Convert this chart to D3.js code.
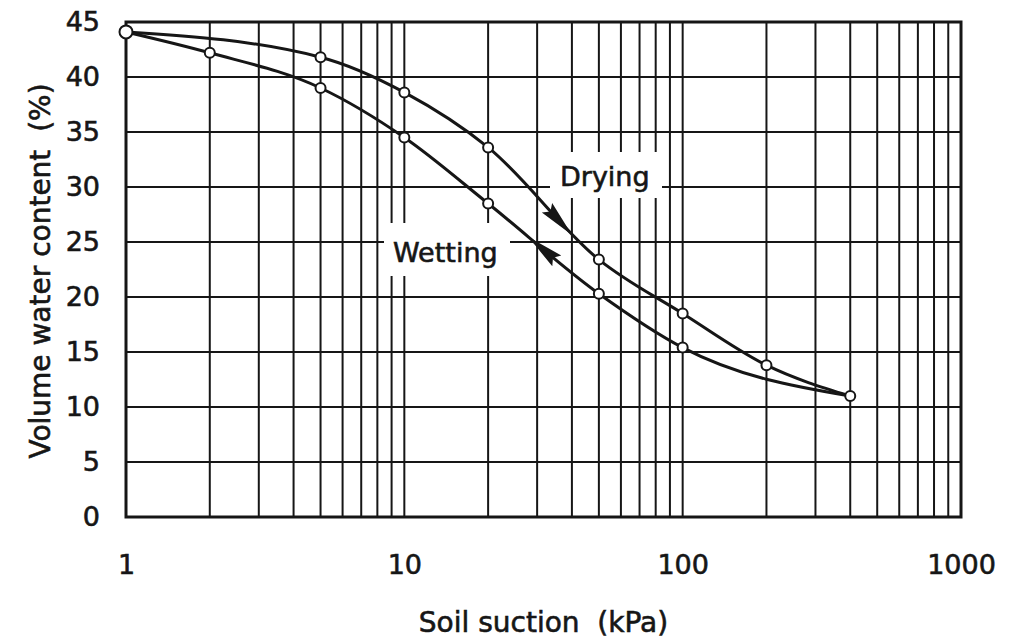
<!DOCTYPE html>
<html>
<head>
<meta charset="utf-8">
<script src="https://cdn.jsdelivr.net/npm/d3@7"></script>
<style>
  body { margin: 0; background: #fff; }
  svg { display: block; }
  text { font-family: "DejaVu Sans", sans-serif; fill: #161616; stroke: #161616; stroke-width: 0.6px; white-space: pre; }
</style>
</head>
<body>
<svg id="chart"></svg>
<script>
// values
const dryingSuction = [1, 5, 10, 20, 50, 100, 200, 400];
const dryingWater   = [44.1, 41.8, 38.6, 33.6, 23.4, 18.5, 13.8, 11.0];
const wettingSuction = [1, 2, 5, 10, 20, 50, 100, 400];
const wettingWater   = [44.1, 42.2, 39.0, 34.5, 28.5, 20.3, 15.4, 11.0];
const xTickLabels = [1, 10, 100, 1000];
const yTickLabels = [0, 5, 10, 15, 20, 25, 30, 35, 40, 45];

const width = 1018, height = 639;
const margin = { top: 22, right: 57, bottom: 122, left: 126 };
const ink = "#161616";

const svg = d3.select("#chart")
    .attr("width", width)
    .attr("height", height);

const x = d3.scaleLog()
    .domain([1, 1000])
    .range([margin.left, width - margin.right]);

const y = d3.scaleLinear()
    .domain([0, 45])
    .range([height - margin.bottom, margin.top]);

// grid
svg.append("g")
    .selectAll("line")
    .data(x.ticks())
    .enter().append("line")
    .attr("x1", d => x(d)).attr("x2", d => x(d))
    .attr("y1", y(0)).attr("y2", y(45))
    .attr("stroke", ink)
    .attr("stroke-width", 2);

svg.append("g")
    .selectAll("line")
    .data(yTickLabels)
    .enter().append("line")
    .attr("x1", x(1)).attr("x2", x(1000))
    .attr("y1", d => y(d)).attr("y2", d => y(d))
    .attr("stroke", ink)
    .attr("stroke-width", 2);

// label backgrounds knock out the grid
svg.append("rect").attr("x", 550).attr("y", 152).attr("width", 112).attr("height", 46).attr("fill", "#fff");
svg.append("rect").attr("x", 384).attr("y", 223).attr("width", 126).attr("height", 53).attr("fill", "#fff");

// frame
svg.append("rect")
    .attr("x", x(1)).attr("y", y(45))
    .attr("width", x(1000) - x(1))
    .attr("height", y(0) - y(45))
    .attr("fill", "none")
    .attr("stroke", ink)
    .attr("stroke-width", 3);

// axes (labels only)
const xAxis = svg.append("g")
    .attr("transform", `translate(0,${y(0)})`)
    .call(d3.axisBottom(x).tickValues(xTickLabels).tickFormat(d3.format("d")).tickSize(0).tickPadding(38));
const yAxis = svg.append("g")
    .attr("transform", `translate(${x(1)},0)`)
    .call(d3.axisLeft(y).tickValues(yTickLabels).tickSize(0).tickPadding(26));
[xAxis, yAxis].forEach(g => {
    g.select(".domain").remove();
    g.selectAll("text")
        .style("font-family", "'DejaVu Sans', sans-serif")
        .style("font-size", "27px")
        .attr("fill", ink);
});

// curves
const line = d3.line()
    .x(d => x(d[0]))
    .y(d => y(d[1]))
    .curve(d3.curveMonotoneX);

const drying = dryingSuction.map((s, i) => [s, dryingWater[i]]);
const wetting = wettingSuction.map((s, i) => [s, wettingWater[i]]);

const dryPath = svg.append("path")
    .attr("d", line(drying))
    .attr("fill", "none").attr("stroke", ink).attr("stroke-width", 3);
const wetPath = svg.append("path")
    .attr("d", line(wetting))
    .attr("fill", "none").attr("stroke", ink).attr("stroke-width", 3);

// arrows along the curves
function pointAtX(node, px) {
    let lo = 0, hi = node.getTotalLength();
    for (let k = 0; k < 40; k++) {
        const mid = (lo + hi) / 2;
        if (node.getPointAtLength(mid).x < px) lo = mid; else hi = mid;
    }
    return lo;
}
function arrow(node, suction, dir) {
    const len = pointAtX(node, x(suction));
    const p = node.getPointAtLength(len);
    const a = node.getPointAtLength(len - 4), b = node.getPointAtLength(len + 4);
    const ang = Math.atan2(b.y - a.y, b.x - a.x) * 180 / Math.PI + (dir < 0 ? 180 : 0);
    svg.append("path")
        .attr("d", "M19,0 L-18,-7 L-13,0 L-18,7 Z")
        .attr("transform", `translate(${p.x},${p.y}) rotate(${ang})`)
        .attr("fill", ink);
}
arrow(dryPath.node(), 36, 1);
arrow(wetPath.node(), 31.5, -1);

// markers
svg.append("g")
    .selectAll("circle")
    .data(drying.concat(wetting.slice(1, -1)))
    .enter().append("circle")
    .attr("cx", d => x(d[0]))
    .attr("cy", d => y(d[1]))
    .attr("r", d => d[0] === 1 ? 6.5 : 5)
    .attr("fill", "#fff")
    .attr("stroke", ink)
    .attr("stroke-width", 2);

// annotations
svg.append("text").attr("x", 560).attr("y", 186).style("font-size", "27px").text("Drying");
svg.append("text").attr("x", 393).attr("y", 262).style("font-size", "27px").text("Wetting");

// axis titles
svg.append("text")
    .attr("x", (x(1) + x(1000)) / 2)
    .attr("y", 632)
    .attr("text-anchor", "middle")
    .style("font-size", "28px")
    .text("Soil suction  (kPa)");

svg.append("text")
    .attr("transform", `translate(50,271) rotate(-90)`)
    .attr("text-anchor", "middle")
    .style("font-size", "28px")
    .text("Volume water content  (%)");
</script>
</body>
</html>
